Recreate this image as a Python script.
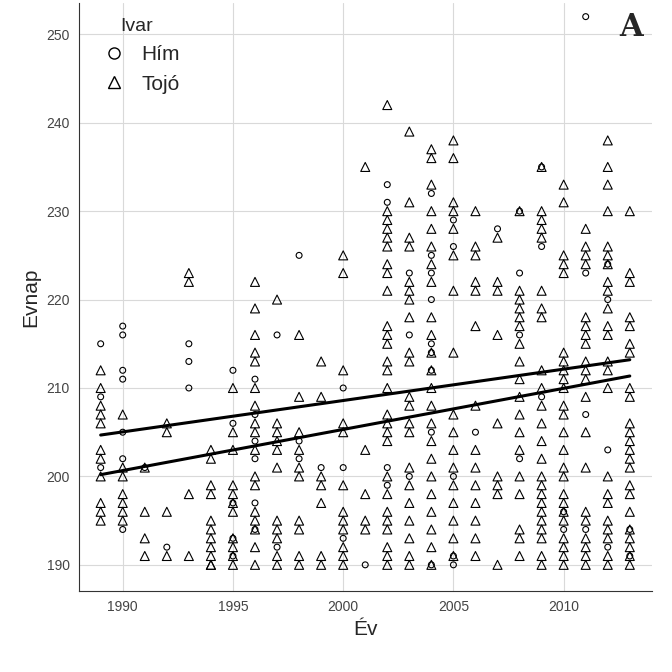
import numpy as np, pandas as pd, seaborn as sns, matplotlib
matplotlib.use("Agg")
import matplotlib.pyplot as plt
from matplotlib.lines import Line2D

male = {
1989:[215,209,201],1990:[217,216,212,211,205,202,194],1991:[201],1992:[192],
1993:[215,213,210],1995:[212,206,197,193,191],1996:[211,207,204,202,197,194],
1997:[216,192],1998:[225,204,202],1999:[201],2000:[210,201,193],2001:[190],
2002:[233,231,201,199],2003:[223,216,200],2004:[232,225,223,220,215,214,212,205,190],
2005:[229,226,200,191,190],2006:[205],2007:[228],2008:[230,223,216,202],
2009:[235,226,209],2010:[196,194],2011:[252,223,207,194],2012:[224,220,203,192],2013:[194,191]}
female = {
1989:[212,210,208,207,206,203,202,200,197,196,195],1990:[207,201,200,198,197,196,195],
1991:[201,196,193,191],1992:[206,205,196,191],1993:[223,222,198,191],
1994:[203,202,199,198,195,194,193,192,191,190,190],
1995:[210,205,203,199,198,197,196,193,192,191,190],
1996:[222,219,216,214,213,210,208,206,205,203,200,199,196,195,194,192,190],
1997:[220,206,205,204,203,201,195,194,193,191,190],
1998:[216,209,205,203,201,200,195,194,191,190],1999:[213,209,200,199,197,191,190],
2000:[225,223,212,206,205,199,196,195,194,192,191,190],2001:[235,203,198,195,194],
2002:[242,230,229,228,227,226,224,223,221,217,216,215,213,212,210,207,206,205,204,200,198,196,195,194,192,191,190],
2003:[239,231,227,226,222,221,220,218,214,213,209,208,206,205,201,199,197,195,193,191,190],
2004:[237,236,233,230,228,226,224,222,218,216,214,212,210,208,206,204,202,200,198,196,194,192,190],
2005:[238,236,231,230,228,225,221,214,207,205,203,201,199,197,195,193,191],
2006:[230,226,225,222,221,217,208,203,201,199,197,195,193,191],
2007:[227,222,221,216,206,200,199,198,190],
2008:[230,221,220,219,218,217,215,213,211,209,207,205,203,200,198,194,193,191],
2009:[235,230,229,228,227,221,219,218,212,210,208,206,204,202,200,199,198,197,196,195,194,193,191,190],
2010:[233,231,225,224,223,214,213,212,211,210,208,207,205,203,201,200,198,197,196,195,193,192,191,190],
2011:[228,226,225,224,218,217,216,215,213,212,211,209,205,201,196,195,193,192,191,190],
2012:[238,235,233,230,226,225,224,222,221,219,217,216,213,212,210,200,198,197,195,194,193,191,190],
2013:[230,223,222,218,217,215,214,210,209,206,205,204,203,202,201,199,198,196,194,193,192,191,190]}

rows = [(y, v, "Hím") for y, vs in male.items() for v in vs] + \
       [(y, v, "Tojó") for y, vs in female.items() for v in vs]
df = pd.DataFrame(rows, columns=["Ev", "Evnap", "Ivar"])

sns.set_style("white")
plt.rcParams["font.family"] = "Liberation Sans"
fig, ax = plt.subplots(figsize=(6.72, 6.72), dpi=100)
for sex, mk, sz in [("Hím", "o", 18), ("Tojó", "^", 42)]:
    d = df[df.Ivar == sex]
    sns.scatterplot(data=d, x="Ev", y="Evnap", marker=mk, s=sz, facecolor="none",
                    edgecolor="black", linewidth=0.8, ax=ax, legend=False)
    sns.regplot(data=d, x="Ev", y="Evnap", scatter=False, ci=None, ax=ax,
                line_kws=dict(color="black", lw=2.2), truncate=True)
ax.set_xlim(1988, 2014); ax.set_ylim(187, 253.5)
ax.set_xticks([1990, 1995, 2000, 2005, 2010]); ax.set_yticks(range(190, 251, 10))
ax.grid(True, color="#d9d9d9", lw=0.8); ax.set_axisbelow(True)
for s in ["top", "right"]: ax.spines[s].set_visible(False)
for s in ["left", "bottom"]: ax.spines[s].set_color("#333333")
ax.tick_params(colors="#333333", labelsize=10, length=3)
for t in ax.get_xticklabels() + ax.get_yticklabels(): t.set_color("#444444")
ax.set_xlabel("Év", fontsize=15); ax.set_ylabel("Evnap", fontsize=15)
h = [Line2D([], [], marker="o", ls="", mfc="none", mec="black", ms=8),
     Line2D([], [], marker="^", ls="", mfc="none", mec="black", ms=9)]
ax.legend(h, ["Hím", "Tojó"], title="Ivar", loc="upper left", frameon=False,
          fontsize=15, title_fontsize=14, handletextpad=0.3, borderaxespad=0.3)
ax.text(0.985, 0.985, "A", transform=ax.transAxes, ha="right", va="top",
        fontsize=22, fontweight="bold", family="DejaVu Serif")
plt.subplots_adjust(left=0.117, right=0.97, top=0.995, bottom=0.12)
fig.savefig("out.png", dpi=100)
